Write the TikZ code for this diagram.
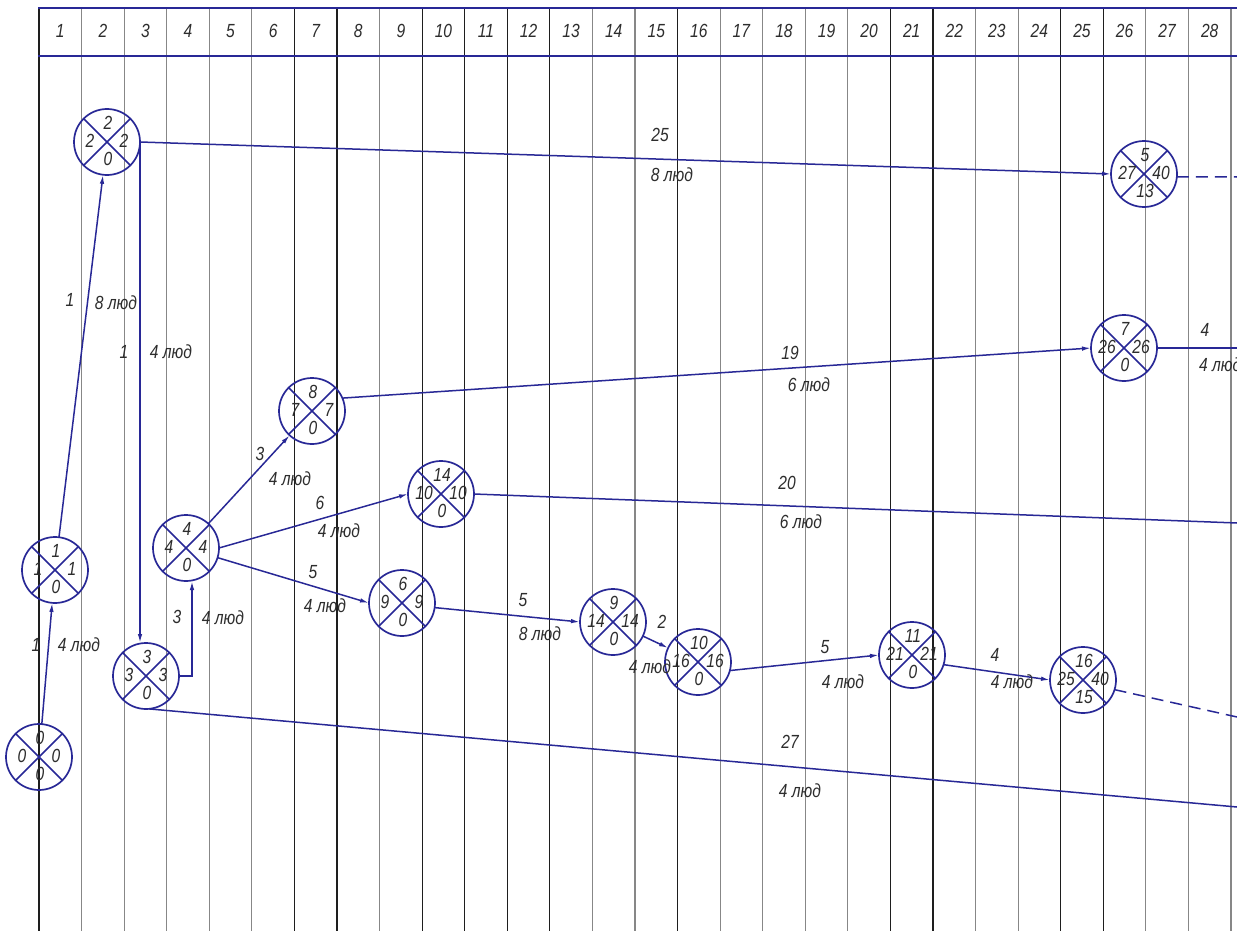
\documentclass[tikz,border=0pt]{standalone}
\usepackage{fontspec}
\setmainfont{Liberation Sans}[FakeStretch=0.82]
\usetikzlibrary{arrows.meta,calc}
\definecolor{navy}{RGB}{40,40,150}
\definecolor{ink}{RGB}{45,45,45}
\definecolor{gdark}{RGB}{30,30,30}
\definecolor{glight}{RGB}{135,135,135}
\tikzset{
  evt/.style={circle, draw=navy, line width=1.7pt, minimum size=66pt, inner sep=0pt, outer sep=0pt,
    path picture={\draw[navy, line width=1.5pt]
      (path picture bounding box.north west) -- (path picture bounding box.south east)
      (path picture bounding box.north east) -- (path picture bounding box.south west);}},
  val/.style={font=\fontsize{19}{19}\selectfont\itshape, text=ink, inner sep=0pt},
  lbl/.style={font=\fontsize{19}{19}\selectfont\itshape, text=ink, inner sep=0pt},
  hdr/.style={font=\fontsize{19}{19}\selectfont\itshape, text=ink, inner sep=0pt},
  warrow/.style={navy, line width=1.5pt, -{Latex[length=9pt,width=4.5pt]}},
  wline/.style={navy, line width=1.5pt},
  wdashed/.style={navy, line width=1.5pt, dash pattern=on 12pt off 7pt},
  gridd/.style={gdark, line width=1.2pt},
  gridl/.style={glight, line width=1.2pt},
}
\newcommand{\evnode}[7]{%
  \node[evt] (#1) at (#2,#3) {};
  \node[val] (#1t) at ($(#1)+(1,-19)$) {#4};
  \node[val] (#1l) at ($(#1)+(-17,-1)$) {#5};
  \node[val] (#1r) at ($(#1)+(17,-1)$) {#6};
  \node[val] (#1b) at ($(#1)+(1,17)$) {#7};
}
\begin{document}
\begin{tikzpicture}[x=1pt,y=-1pt]
\path[use as bounding box, clip] (0,0) rectangle (1237,931);
\fill[white] (0,0) rectangle (1237,931);
% grid lines
\foreach \i in {0,6,7,9,10,11,12,15,20,21,24,25}
  \draw[gridd] ({39+42.57*\i},8) -- ({39+42.57*\i},931);
\foreach \i in {1,2,3,4,5,8,13,14,16,17,18,19,22,23,26,27,28}
  \draw[gridl] ({39+42.57*\i},8) -- ({39+42.57*\i},931);
% header
\draw[navy, line width=2pt] (38,8) -- (1237,8);
\draw[navy, line width=2pt] (38,56) -- (1237,56);
\foreach \i in {1,...,28}
  \node[hdr] (h\i) at ({39+42.57*(\i-0.5)},31) {\i};
% events
\evnode{n0}{39}{757}{0}{0}{0}{0}
\evnode{n1}{55}{570}{1}{1}{1}{0}
\evnode{n2}{107}{142}{2}{2}{2}{0}
\evnode{n3}{146}{676}{3}{3}{3}{0}
\evnode{n4}{186}{548}{4}{4}{4}{0}
\evnode{n7}{312}{411}{8}{7}{7}{0}
\evnode{n10}{441}{494}{14}{10}{10}{0}
\evnode{n9}{402}{603}{6}{9}{9}{0}
\evnode{n14}{613}{622}{9}{14}{14}{0}
\evnode{n16}{698}{662}{10}{16}{16}{0}
\evnode{n21}{912}{655}{11}{21}{21}{0}
\evnode{n25}{1083}{680}{16}{25}{40}{15}
\evnode{n27}{1144}{174}{5}{27}{40}{13}
\evnode{n26}{1124}{348}{7}{26}{26}{0}
% free ends
\coordinate (o25) at (1237,717);
\coordinate (o3) at (1237,807);
\coordinate (o27) at (1237,177);
\coordinate (o26) at (1237,348);
\coordinate (o10) at (1237,523);
% works
\draw[warrow] (n0) -- (n1);
\draw[warrow] (n1) -- (n2);
\draw[warrow] (n2.east) -- (n2.east |- n3.north);
\draw[warrow] (n3.east) -| ([xshift=6pt]n4.south);
\draw[warrow] (n4) -- (n7);
\draw[warrow] (n4.east) -- (n10.west);
\draw[warrow] (n4.-17) -- (n9.west);
\draw[warrow] (n9.-8) -- (n14.west);
\draw[warrow] (n14) -- (n16);
\draw[warrow] (n16.-15) -- (n21.west);
\draw[warrow] (n21.-17) -- (n25.west);
\draw[wdashed] (n25.-17) -- (o25);
\draw[wline] (n3.-85) -- (o3);
\draw[warrow] (n2.east) -- (n27.west);
\draw[wdashed] (n27.-5) -- (o27);
\draw[warrow] (n7.23) -- (n26.west);
\draw[wline] (n26.east) -- (o26);
\draw[wline] (n10.east) -- (o10);
% labels
\node[lbl] (a1) at (36,645) {1};
\node[lbl] (a2) at (79,645) {4 люд};
\node[lbl] (b1) at (70,300) {1};
\node[lbl] (b2) at (116,303) {8 люд};
\node[lbl] (c1) at (124,352) {1};
\node[lbl] (c2) at (171,352) {4 люд};
\node[lbl] (d1) at (177,617) {3};
\node[lbl] (d2) at (223,618) {4 люд};
\node[lbl] (e1) at (260,454) {3};
\node[lbl] (e2) at (290,479) {4 люд};
\node[lbl] (f1) at (320,503) {6};
\node[lbl] (f2) at (339,531) {4 люд};
\node[lbl] (g1) at (313,572) {5};
\node[lbl] (g2) at (325,606) {4 люд};
\node[lbl] (k1) at (523,600) {5};
\node[lbl] (k2) at (540,634) {8 люд};
\node[lbl] (m1) at (662,622) {2};
\node[lbl] (m2) at (650,667) {4 люд};
\node[lbl] (p1) at (825,647) {5};
\node[lbl] (p2) at (843,682) {4 люд};
\node[lbl] (q1) at (995,655) {4};
\node[lbl] (q2) at (1012,682) {4 люд};
\node[lbl] (r1) at (660,135) {25};
\node[lbl] (r2) at (672,175) {8 люд};
\node[lbl] (s1) at (790,353) {19};
\node[lbl] (s2) at (809,385) {6 люд};
\node[lbl] (t1) at (787,483) {20};
\node[lbl] (t2) at (801,522) {6 люд};
\node[lbl] (u1) at (790,742) {27};
\node[lbl] (u2) at (800,791) {4 люд};
\node[lbl] (v1) at (1205,330) {4};
\node[lbl, anchor=west] (v2) at (1199,365) {4 люд};
\end{tikzpicture}
\end{document}
